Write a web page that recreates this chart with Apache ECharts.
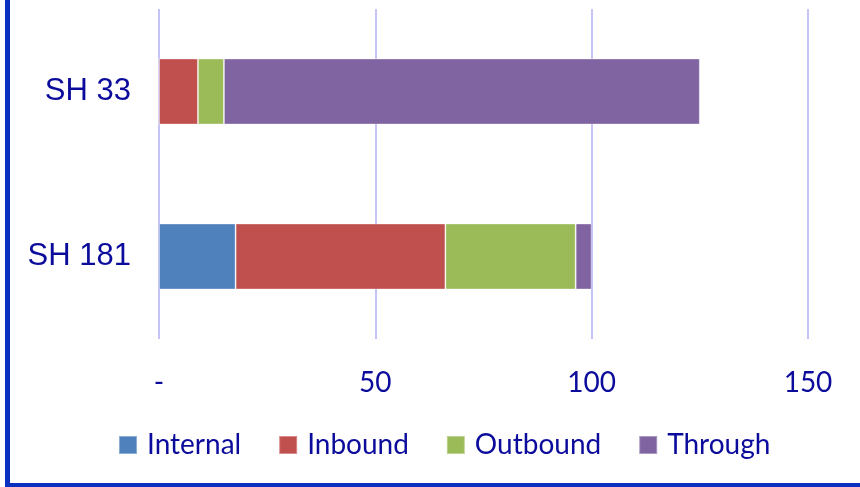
<!DOCTYPE html>
<html>
<head>
<meta charset="utf-8">
<script src="https://cdn.jsdelivr.net/npm/echarts@6/dist/echarts.min.js"></script>
<style>
  html, body { margin: 0; padding: 0; background: #fff; }
  #wrap { position: relative; width: 860px; height: 487px; }
  #chart { width: 860px; height: 487px; }
  #frame {
    position: absolute; left: 5px; top: 0; right: 0; bottom: 0;
    border-left: 5px solid #0a30c0; border-bottom: 4px solid #0a30c0;
    pointer-events: none;
  }
</style>
</head>
<body>
<div id="wrap">
  <div id="chart"></div>
  <div id="frame"></div>
</div>
<script>
// chart data
const categories = ['SH 181', 'SH 33'];
const internal = [17.7, 0];
const inbound = [48.5, 9];
const outbound = [30.1, 6];
const through = [3.7, 110];
const xTicks = [0, 50, 100, 150];

const textColor = '#0c0c9c';
const colors = ['#4F81BD', '#C0504D', '#9BBB59', '#8064A2'];

function bar(name, data) {
  return {
    name: name,
    type: 'bar',
    stack: 'total',
    barWidth: '40%',
    data: data,
    itemStyle: { borderColor: 'rgba(255,255,255,0.35)', borderWidth: 1 }
  };
}

let myChart = echarts.init(document.getElementById('chart'));
myChart.setOption({
  animation: false,
  color: colors,
  grid: { left: 159, right: 52, top: 9, bottom: 148 },
  legend: {
    left: 118,
    top: 431,
    padding: 0,
    itemWidth: 18,
    itemHeight: 18,
    itemGap: 37,
    icon: 'rect',
    textStyle: { color: textColor, fontFamily: 'Lato', fontSize: 28, padding: [0, 0, 0, 5] },
    data: ['Internal', 'Inbound', 'Outbound', 'Through']
  },
  xAxis: {
    type: 'value',
    min: xTicks[0],
    max: xTicks[xTicks.length - 1],
    interval: 50,
    axisLine: { show: false },
    axisTick: { show: false },
    splitLine: { lineStyle: { color: '#c4c4f8', width: 2 } },
    axisLabel: {
      color: textColor,
      fontFamily: 'Lato',
      fontSize: 28,
      margin: 30,
      formatter: v => v === 0 ? '-' : String(v)
    }
  },
  yAxis: {
    type: 'category',
    data: categories,
    axisLine: { show: false },
    axisTick: { show: false },
    axisLabel: {
      color: textColor,
      fontFamily: 'Liberation Sans',
      fontSize: 31,
      margin: 28
    }
  },
  series: [
    bar('Internal', internal),
    bar('Inbound', inbound),
    bar('Outbound', outbound),
    bar('Through', through)
  ]
});
</script>
</body>
</html>
